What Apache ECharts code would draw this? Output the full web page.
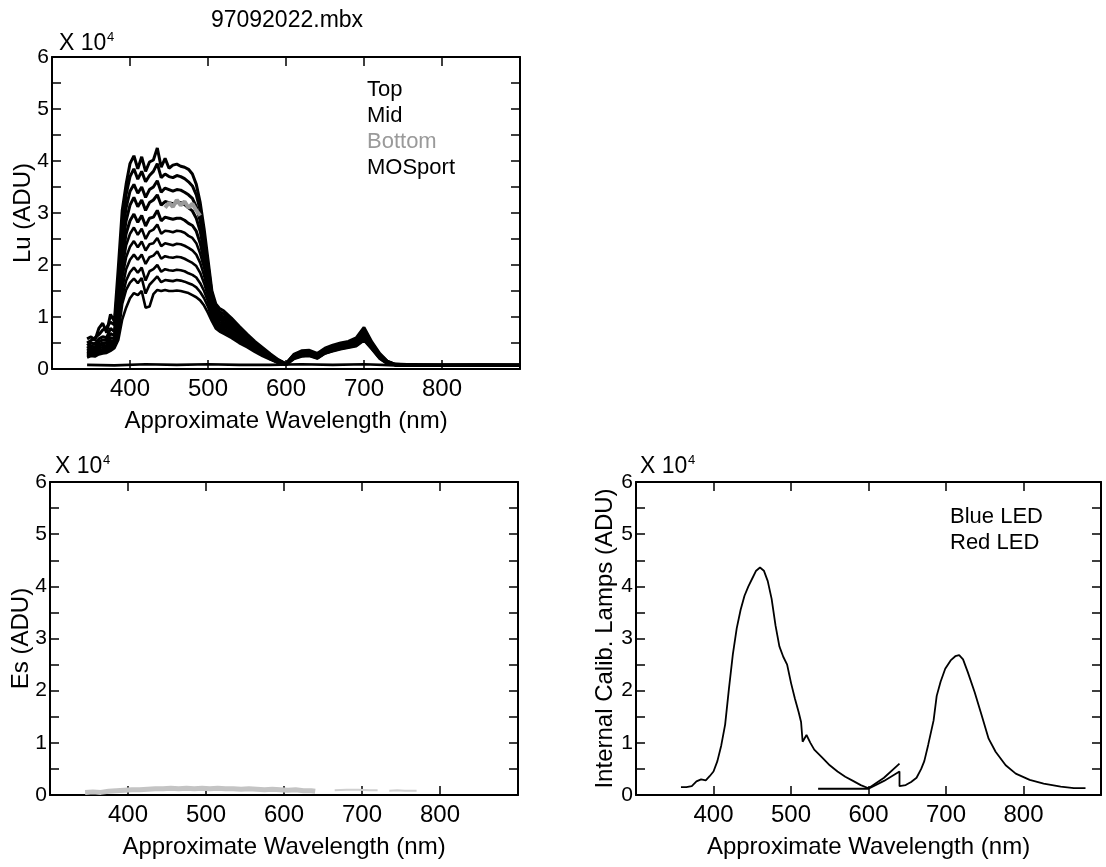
<!DOCTYPE html>
<html>
<head>
<meta charset="utf-8">
<script src="https://cdn.jsdelivr.net/npm/echarts@6/dist/echarts.min.js"></script>
<style>
html,body{margin:0;padding:0;background:#fff;}
#chart{width:1106px;height:867px;}
</style>
</head>
<body>
<div id="chart"></div>
<script>
// ---------- DATA (values in units of 10^4 ADU) ----------
const luWavelength = [345,350,355,360,365,370,375,380,385,390,395,400,405,410,415,420,425,430,435,440,445,450,455,460,465,470,475,480,485,490,495,500,505,510,515,520,530,540,550,560,570,580,590,600,610,620,630,640,650,660,670,680,690,700,710,720,730,740,770,800,850,900];

const luTop1 = [0.58,0.62,0.55,0.78,0.88,0.7,1.05,0.92, 1.95,3.05,3.55,3.95, 4.1,3.85,4.08,3.8,3.98,4.02,4.25,3.88,4.05,3.86,3.92,3.94,3.9,3.88,3.84,3.75, 3.55,3.2,2.7,2.1,1.5,1.25,1.16,1.12, 0.98,0.82,0.67,0.53,0.41,0.29,0.18,0.1, 0.28,0.35,0.36,0.3,0.4,0.46,0.5,0.53,0.6,0.8,0.52,0.3,0.15,0.09, 0.08,0.08,0.08,0.08];
const luTop2 = [0.5,0.55,0.6,0.66,0.75,0.8,0.9,0.85, 1.7,2.8,3.35,3.7, 3.85,3.65,3.8,3.6,3.72,3.8,3.95,3.68,3.75,3.7,3.68,3.72,3.7,3.66,3.6,3.52, 3.35,3.05,2.55,2.0,1.45,1.2,1.1,1.06, 0.93,0.78,0.64,0.5,0.39,0.27,0.17,0.1, 0.27,0.33,0.34,0.28,0.38,0.44,0.48,0.51,0.57,0.76,0.5,0.28,0.14,0.09, 0.08,0.07,0.08,0.07];
const luTop3 = [0.45,0.5,0.48,0.58,0.62,0.6,0.78,0.72, 1.5,2.55,3.1,3.42, 3.55,3.38,3.5,3.3,3.45,3.5,3.62,3.4,3.48,3.45,3.42,3.45,3.44,3.4,3.35,3.28, 3.12,2.85,2.4,1.9,1.4,1.15,1.05,1.0, 0.88,0.74,0.61,0.48,0.37,0.26,0.16,0.1, 0.26,0.32,0.33,0.27,0.37,0.42,0.46,0.5,0.55,0.72,0.48,0.27,0.14,0.09, 0.07,0.07,0.07,0.07];
const luTop4 = [0.4,0.45,0.42,0.52,0.56,0.55,0.68,0.64, 1.35,2.35,2.85,3.15, 3.3,3.12,3.25,3.05,3.2,3.25,3.35,3.15,3.22,3.2,3.18,3.2,3.2,3.16,3.1,3.04, 2.9,2.65,2.25,1.8,1.35,1.1,1.0,0.95, 0.84,0.7,0.58,0.46,0.35,0.25,0.15,0.09, 0.25,0.31,0.32,0.26,0.36,0.41,0.45,0.48,0.53,0.7,0.46,0.26,0.13,0.08, 0.07,0.07,0.07,0.07];
const luMid1 = [0.36,0.4,0.38,0.47,0.5,0.5,0.6,0.58, 1.2,2.1,2.6,2.85, 2.98,2.82,2.95,2.75,2.9,2.92,3.05,2.85,2.92,2.9,2.88,2.9,2.9,2.86,2.8,2.76, 2.65,2.42,2.08,1.7,1.3,1.05,0.95,0.9, 0.8,0.67,0.55,0.44,0.33,0.23,0.14,0.09, 0.24,0.3,0.31,0.25,0.35,0.4,0.44,0.47,0.52,0.68,0.45,0.25,0.13,0.08, 0.07,0.07,0.07,0.07];
const luMid2 = [0.33,0.37,0.35,0.43,0.46,0.45,0.55,0.53, 1.1,1.92,2.38,2.6, 2.72,2.58,2.7,2.5,2.64,2.68,2.78,2.6,2.66,2.65,2.63,2.66,2.65,2.62,2.56,2.52, 2.42,2.22,1.95,1.6,1.25,1.0,0.9,0.86, 0.77,0.64,0.53,0.42,0.32,0.22,0.14,0.09, 0.23,0.29,0.3,0.24,0.34,0.39,0.43,0.46,0.5,0.66,0.44,0.24,0.12,0.08, 0.07,0.07,0.07,0.07];
const luMid3 = [0.3,0.34,0.32,0.4,0.42,0.42,0.5,0.5, 1.0,1.75,2.15,2.35, 2.46,2.34,2.45,2.28,2.4,2.42,2.52,2.36,2.42,2.4,2.38,2.41,2.4,2.37,2.33,2.28, 2.2,2.04,1.8,1.5,1.18,0.95,0.86,0.82, 0.74,0.62,0.51,0.4,0.3,0.21,0.13,0.09, 0.22,0.28,0.29,0.23,0.33,0.38,0.42,0.45,0.49,0.63,0.42,0.23,0.12,0.08, 0.07,0.07,0.07,0.07];
const luMid4 = [0.28,0.31,0.3,0.36,0.38,0.39,0.46,0.47, 0.88,1.55,1.92,2.1, 2.2,2.1,2.2,2.02,2.15,2.18,2.26,2.12,2.17,2.15,2.14,2.16,2.15,2.12,2.08,2.04, 1.98,1.85,1.65,1.4,1.12,0.9,0.82,0.78, 0.7,0.59,0.49,0.38,0.29,0.2,0.13,0.09, 0.21,0.27,0.28,0.22,0.32,0.37,0.41,0.44,0.47,0.61,0.41,0.22,0.11,0.08, 0.07,0.07,0.07,0.07];
const luPort1 = [0.26,0.29,0.28,0.33,0.35,0.36,0.42,0.44, 0.78,1.38,1.7,1.86, 1.95,1.85,1.95,1.7,1.88,1.92,2.0,1.87,1.92,1.9,1.89,1.91,1.9,1.88,1.84,1.81, 1.76,1.65,1.5,1.3,1.05,0.85,0.78,0.74, 0.67,0.56,0.47,0.37,0.28,0.19,0.12,0.08, 0.21,0.26,0.27,0.21,0.31,0.36,0.4,0.43,0.46,0.59,0.4,0.22,0.11,0.08, 0.07,0.07,0.07,0.07];
const luPort2 = [0.24,0.27,0.26,0.31,0.33,0.34,0.39,0.42, 0.68,1.25,1.52,1.66, 1.74,1.65,1.75,1.45,1.62,1.7,1.78,1.67,1.71,1.7,1.69,1.71,1.7,1.68,1.65,1.62, 1.57,1.48,1.36,1.2,0.98,0.8,0.74,0.7, 0.64,0.53,0.45,0.35,0.27,0.19,0.12,0.08, 0.2,0.25,0.26,0.21,0.3,0.35,0.39,0.42,0.45,0.57,0.39,0.21,0.1,0.08, 0.07,0.07,0.07,0.07];
const luPort3 = [0.22,0.25,0.24,0.28,0.3,0.31,0.35,0.4, 0.56,0.95,1.18,1.36, 1.46,1.42,1.5,1.18,1.2,1.44,1.52,1.5,1.52,1.5,1.5,1.51,1.5,1.48,1.46,1.42, 1.38,1.32,1.22,1.08,0.92,0.78,0.72,0.68, 0.6,0.5,0.42,0.33,0.25,0.18,0.12,0.08, 0.19,0.24,0.25,0.2,0.3,0.34,0.38,0.41,0.44,0.55,0.38,0.2,0.1,0.08, 0.07,0.07,0.07,0.07];

const luBottomWavelength = [445,450,455,460,465,470,475,480,485,490];
const luBottomValues = [3.1,3.2,3.12,3.25,3.15,3.22,3.1,3.18,3.05,2.95];

const luFlatWavelength = [345,380,420,460,500,540,580,620,660,700,740,800,860,900];
const luFlatValues = [0.08,0.07,0.09,0.08,0.09,0.08,0.08,0.09,0.08,0.09,0.07,0.07,0.07,0.07];

const esWavelength = [345,355,365,375,385,395,405,415,425,435,445,455,465,475,485,495,505,515,525,535,545,555,565,575,585,595,605,615,625,635,640];
const esValues = [0.05,0.06,0.05,0.07,0.08,0.09,0.1,0.1,0.11,0.12,0.12,0.13,0.12,0.13,0.12,0.13,0.12,0.13,0.12,0.12,0.11,0.12,0.11,0.1,0.11,0.1,0.09,0.1,0.08,0.08,0.07];
const esFarWavelength = [665,680,695,710,720,728,735,745,755,770];
const esFarValues = [0.09,0.1,0.1,0.09,0.09,null,0.08,0.09,0.08,0.08];

const blueWavelength = [358,365,372,378,384,390,395,400,405,410,415,420,425,430,435,440,445,450,455,460,465,470,475,480,485,490,495,500,505,510,513,515,520,525,530,540,550,560,570,580,590,600,620,640];
const blueValues = [0.15,0.15,0.17,0.26,0.3,0.28,0.36,0.45,0.65,0.95,1.35,2.05,2.7,3.2,3.55,3.82,4.0,4.15,4.3,4.36,4.3,4.1,3.76,3.25,2.85,2.65,2.5,2.15,1.85,1.58,1.4,1.02,1.15,1.0,0.87,0.72,0.57,0.45,0.35,0.27,0.19,0.13,0.33,0.6];

const redWavelength = [535,560,580,600,620,640,640,648,655,662,668,672,677,684,688,693,699,706,712,717,722,728,737,746,755,764,777,790,808,826,848,865,880];
const redValues = [0.12,0.12,0.12,0.12,0.27,0.45,0.17,0.19,0.25,0.33,0.5,0.65,0.96,1.43,1.9,2.17,2.42,2.58,2.66,2.68,2.6,2.36,1.97,1.53,1.08,0.83,0.57,0.41,0.29,0.22,0.16,0.13,0.13];

const xTickLabels = ['400','500','600','700','800'];
const yTickLabels = ['0','1','2','3','4','5','6'];

// ---------- CHART ----------
const FONT = 'Liberation Sans';
const pairs = (xs, ys) => xs.map((x, i) => [x, ys[i]]);

const grids = [
  {left: 52, top: 57, width: 468, height: 312},
  {left: 50, top: 482, width: 468, height: 313},
  {left: 636, top: 482, width: 465, height: 313}
];
const yNames = ['Lu (ADU)', 'Es (ADU)', 'Internal Calib. Lamps (ADU)'];
const yNameGaps = [17, 17, 19];

const xAxes = [], yAxes = [];
grids.forEach((g, gi) => {
  const tick = {show: true, inside: true, length: 9, lineStyle: {color: '#000', width: 1.5}};
  const line = {show: true, onZero: false, lineStyle: {color: '#000', width: 2}};
  xAxes.push({
    gridIndex: gi, type: 'value', min: 300, max: 900, interval: 100, position: 'bottom',
    axisLine: line, axisTick: tick, splitLine: {show: false},
    axisLabel: {margin: 8, fontFamily: FONT, fontSize: 24, color: '#000',
      formatter: v => xTickLabels.indexOf(String(v)) >= 0 ? String(v) : ''},
    name: 'Approximate Wavelength (nm)', nameLocation: 'middle', nameGap: 40, nameMoveOverlap: false,
    nameTextStyle: {fontFamily: FONT, fontSize: 24, color: '#000'}
  });
  xAxes.push({
    gridIndex: gi, type: 'value', min: 300, max: 900, interval: 100, position: 'top',
    axisLine: line, axisTick: tick, splitLine: {show: false}, axisLabel: {show: false}
  });
  yAxes.push({
    gridIndex: gi, type: 'value', min: 0, max: 6, interval: 0.5, position: 'left',
    axisLine: line, axisTick: tick, splitLine: {show: false},
    axisLabel: {margin: 3, fontFamily: FONT, fontSize: 21, color: '#000',
      formatter: v => yTickLabels.indexOf(String(v)) >= 0 ? String(v) : ''},
    name: yNames[gi], nameLocation: 'middle', nameGap: yNameGaps[gi], nameMoveOverlap: false,
    nameTextStyle: {fontFamily: FONT, fontSize: 24, color: '#000'}
  });
  yAxes.push({
    gridIndex: gi, type: 'value', min: 0, max: 6, interval: 0.5, position: 'right',
    axisLine: line, axisTick: tick, splitLine: {show: false}, axisLabel: {show: false}
  });
});

function lineSeries(name, xs, ys, gi, color, width, z) {
  return {
    name: name, type: 'line', xAxisIndex: gi * 2, yAxisIndex: gi * 2,
    data: pairs(xs, ys), showSymbol: false, symbol: 'none', connectNulls: false,
    lineStyle: {color: color, width: width}, itemStyle: {color: color},
    emphasis: {disabled: true}, silent: true, z: z || 2, animation: false
  };
}

const series = [
  lineSeries('MOSport', luFlatWavelength, luFlatValues, 0, '#000', 2.6),
  lineSeries('Top', luWavelength, luTop1, 0, '#000', 3),
  lineSeries('Top', luWavelength, luTop2, 0, '#000', 3),
  lineSeries('Top', luWavelength, luTop3, 0, '#000', 3),
  lineSeries('Top', luWavelength, luTop4, 0, '#000', 3),
  lineSeries('Mid', luWavelength, luMid1, 0, '#000', 3),
  lineSeries('Mid', luWavelength, luMid2, 0, '#000', 2.6),
  lineSeries('Mid', luWavelength, luMid3, 0, '#000', 2.6),
  lineSeries('Mid', luWavelength, luMid4, 0, '#000', 2.6),
  lineSeries('MOSport', luWavelength, luPort1, 0, '#000', 2.6),
  lineSeries('MOSport', luWavelength, luPort2, 0, '#000', 2.6),
  lineSeries('MOSport', luWavelength, luPort3, 0, '#000', 2.6),
  lineSeries('Bottom', luBottomWavelength, luBottomValues, 0, '#9a9a9a', 4, 3),
  lineSeries('Es', esWavelength, esValues, 1, '#c4c4c4', 5),
  lineSeries('Es', esFarWavelength, esFarValues, 1, '#d0d0d0', 2),
  lineSeries('Blue LED', blueWavelength, blueValues, 2, '#000', 1.8),
  lineSeries('Red LED', redWavelength, redValues, 2, '#000', 1.8)
];

const chart = echarts.init(document.getElementById('chart'), null, {renderer: 'canvas'});
chart.setOption({
  animation: false,
  backgroundColor: '#fff',
  grid: grids,
  xAxis: xAxes,
  yAxis: yAxes,
  legend: [
    {
      orient: 'vertical', left: 357, top: 73, icon: 'none', itemWidth: 0, itemHeight: 10, itemGap: 2,
      selectedMode: false,
      textStyle: {fontFamily: FONT, fontSize: 22, color: '#000', lineHeight: 24},
      data: [
        {name: 'Top'}, {name: 'Mid'},
        {name: 'Bottom', textStyle: {color: '#9a9a9a'}},
        {name: 'MOSport'}
      ]
    },
    {
      orient: 'vertical', left: 940, top: 500, icon: 'none', itemWidth: 0, itemHeight: 10, itemGap: 2,
      selectedMode: false,
      textStyle: {fontFamily: FONT, fontSize: 22, color: '#000', lineHeight: 24},
      data: [{name: 'Blue LED'}, {name: 'Red LED'}]
    }
  ],
  graphic: [
    {type: 'text', x: 287, y: 21, style: {text: '97092022.mbx', font: '23px "Liberation Sans"', fill: '#000', align: 'center', verticalAlign: 'middle'}},
    {type: 'text', x: 59, y: 44, style: {text: 'X 10', font: '23px "Liberation Sans"', fill: '#000', align: 'left', verticalAlign: 'middle'}},
    {type: 'text', x: 107, y: 37, style: {text: '4', font: '13px "Liberation Sans"', fill: '#000', align: 'left', verticalAlign: 'middle'}},
    {type: 'text', x: 55, y: 467, style: {text: 'X 10', font: '23px "Liberation Sans"', fill: '#000', align: 'left', verticalAlign: 'middle'}},
    {type: 'text', x: 103, y: 460, style: {text: '4', font: '13px "Liberation Sans"', fill: '#000', align: 'left', verticalAlign: 'middle'}},
    {type: 'text', x: 640, y: 467, style: {text: 'X 10', font: '23px "Liberation Sans"', fill: '#000', align: 'left', verticalAlign: 'middle'}},
    {type: 'text', x: 688, y: 460, style: {text: '4', font: '13px "Liberation Sans"', fill: '#000', align: 'left', verticalAlign: 'middle'}}
  ],
  series: series
});
</script>
</body>
</html>
